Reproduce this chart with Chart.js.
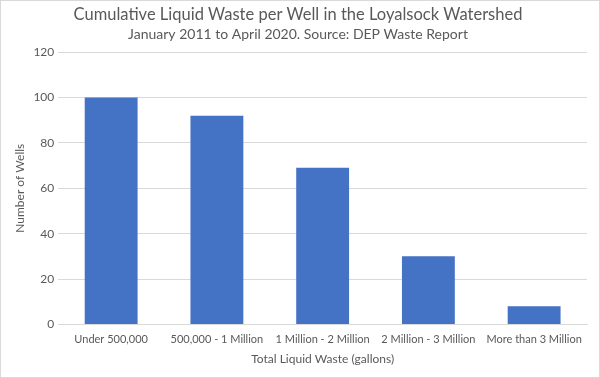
<!DOCTYPE html>
<html><head><meta charset="utf-8">
<script src="https://cdn.jsdelivr.net/npm/chart.js@4"></script>
<style>
html,body{margin:0;padding:0;background:#fff;}
#wrap{position:absolute;left:0;top:0;width:598px;height:376px;border:1px solid #d9d9d9;}
canvas{display:block;}
</style></head><body>
<div id="wrap"><canvas id="c" width="598" height="376"></canvas></div>
<script>
const categories = ["Under 500,000","500,000 - 1 Million","1 Million - 2 Million","2 Million - 3 Million","More than 3 Million"];
const wells = [100, 92, 69, 30, 8];
const yTicks = [0, 20, 40, 60, 80, 100, 120];
const titleText = "Cumulative Liquid Waste per Well in the Loyalsock Watershed";
const subtitleText = "January 2011 to April 2020. Source: DEP Waste Report";
const xTitle = "Total Liquid Waste (gallons)";
const yTitle = "Number of Wells";
const FONT = "Lato, 'Open Sans', sans-serif";
const grey = "#595959";
new Chart(document.getElementById('c'), {
  type: 'bar',
  data: { labels: categories, datasets: [{ data: wells, backgroundColor: '#4472C4', borderWidth: 0, categoryPercentage: 1, barPercentage: 0.5 }] },
  options: {
    responsive: false, animation: false,
    layout: { padding: { left: 8, right: 12, top: 0, bottom: 7 } },
    plugins: {
      legend: { display: false }, tooltip: { enabled: false },
      title: { display: true, text: titleText, color: grey, font: { family: FONT, size: 16.5, weight: 'normal' }, padding: { top: 4, bottom: 1 } },
      subtitle: { display: true, text: subtitleText, color: grey, font: { family: FONT, size: 14, weight: 'normal' }, padding: { top: 0, bottom: 9.5 } }
    },
    scales: {
      x: {
        grid: { display: false },
        border: { color: '#d9d9d9' },
        ticks: { color: grey, font: { family: FONT, size: 11 }, maxRotation: 0, padding: 0 },
        title: { display: true, text: xTitle, color: grey, font: { family: FONT, size: 12 }, padding: { top: 6 } }
      },
      y: {
        min: 0, max: 120,
        afterBuildTicks: (s) => { s.ticks = yTicks.map(v => ({ value: v })); },
        grid: { color: '#d9d9d9', drawTicks: false },
        border: { display: false },
        ticks: { color: grey, font: { family: FONT, size: 12 }, padding: 4 },
        title: { display: true, text: yTitle, color: grey, font: { family: FONT, size: 12 }, padding: { bottom: 2 } }
      }
    }
  }
});
</script>
</body></html>
